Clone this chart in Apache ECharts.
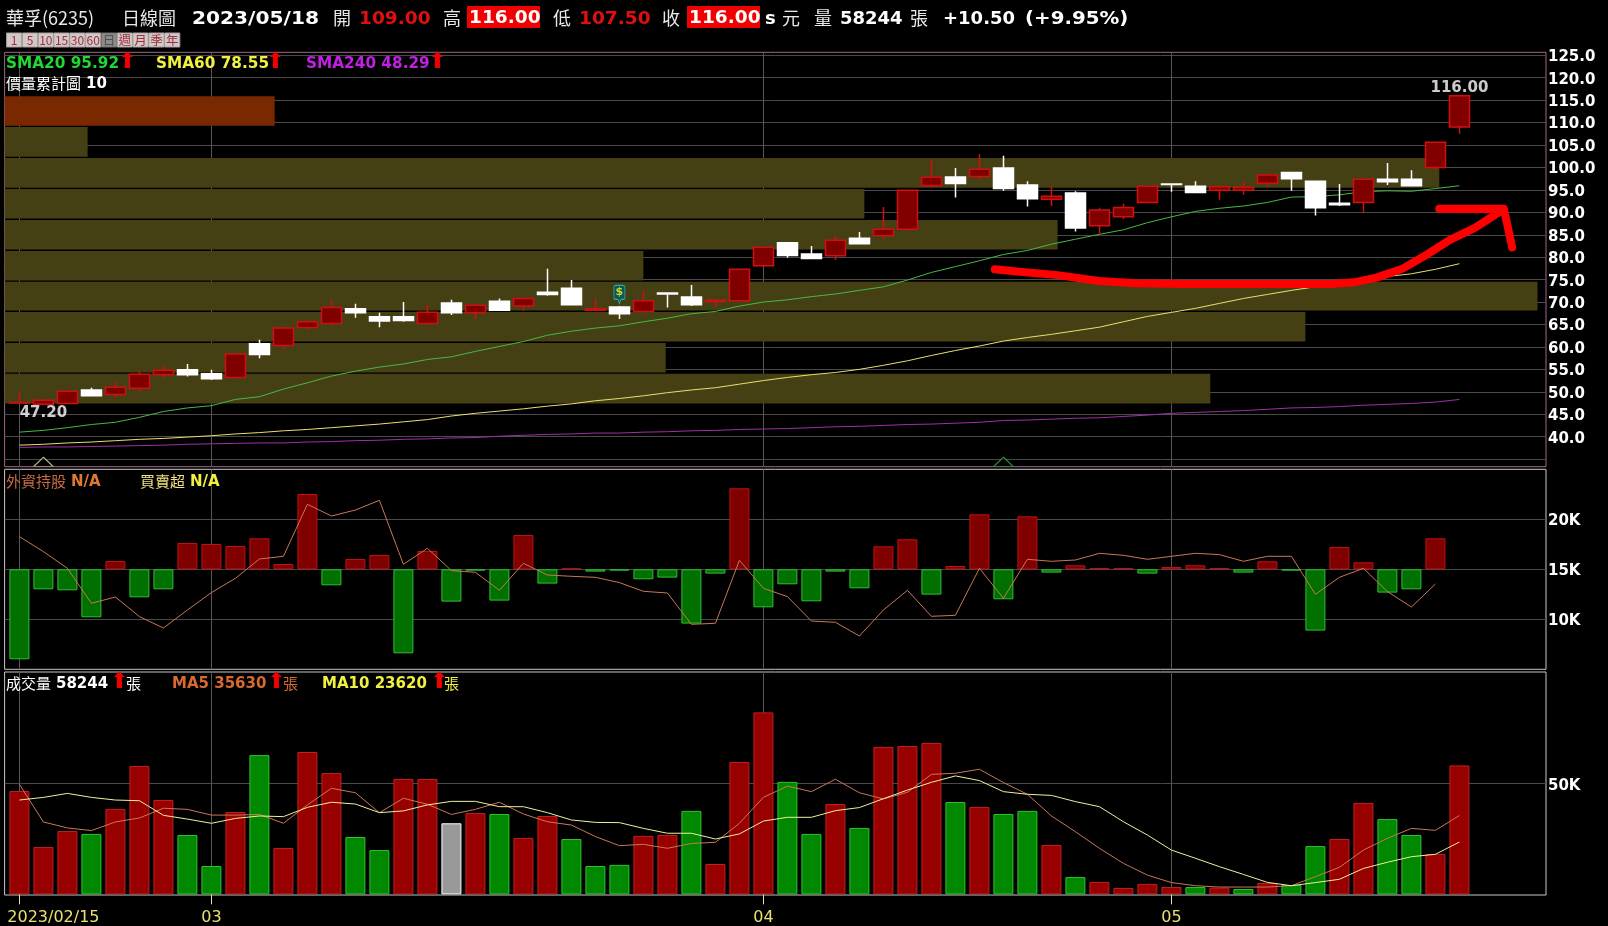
<!DOCTYPE html>
<html><head><meta charset="utf-8">
<style>html,body{margin:0;padding:0;background:#000}#c{width:1608px;height:926px}</style>
<script src="https://cdn.jsdelivr.net/npm/echarts@6/dist/echarts.min.js"></script>
</head><body><div id="c"></div>
<script>
// ---- data ----
const opens  = [47.5,47.2,47.4,50.4,49.4,50.8,53.8,54.9,54.0,53.2,60.7,60.3,64.3,65.2,68.5,66.7,66.7,65.2,69.8,67.6,70.2,69.1,72.2,73.1,68.2,68.9,67.9,72.0,71.1,70.1,70.3,78.1,83.2,80.7,80.3,84.2,84.8,86.2,96.0,97.9,98.0,99.9,96.1,92.9,94.3,87.0,89.0,92.2,96.3,95.8,94.9,94.9,96.5,98.9,96.9,92.0,92.2,97.4,97.4,100.0,109.0];
const closes = [47.6,48.1,50.1,49.1,51.0,53.9,54.8,53.8,52.9,58.4,58.3,64.2,65.6,68.8,67.6,65.8,65.9,67.7,67.6,69.3,68.2,70.8,71.7,69.4,68.5,67.4,70.3,71.8,69.4,70.4,77.3,82.2,80.4,79.7,83.8,83.0,86.2,94.9,97.8,96.4,99.6,95.3,93.0,93.6,86.5,90.5,91.1,95.8,96.2,94.4,95.7,95.6,98.3,97.5,91.0,91.7,97.4,96.8,95.9,105.6,116.0];
const lows   = [47.4,47.2,47.4,49.1,48.7,50.0,53.2,53.4,52.6,53.2,57.5,59.5,63.9,64.8,66.5,64.4,65.6,64.9,67.1,66.2,68.0,68.0,71.4,69.4,68.2,66.2,67.9,68.8,69.1,68.8,70.3,77.7,79.9,79.7,79.4,83.0,84.1,85.9,95.6,93.3,97.4,94.8,91.3,91.4,85.7,85.2,88.5,92.2,94.6,94.4,92.8,93.9,95.7,94.8,89.3,91.4,89.8,96.1,95.9,99.4,107.5];
const highs  = [50.0,48.4,50.1,50.9,52.1,54.6,55.8,56.2,54.9,58.4,61.6,64.2,66.0,70.5,69.6,67.6,70.0,69.4,70.5,69.6,70.8,70.8,77.4,74.9,70.8,69.1,72.5,72.0,73.8,70.4,77.3,82.2,83.4,82.5,84.7,85.6,91.2,94.9,101.7,99.9,103.0,102.6,96.9,95.9,94.7,91.0,91.9,95.8,96.3,96.9,95.7,96.8,98.6,98.9,97.1,96.3,97.4,101.0,99.4,105.6,116.0];
const sma20  = [41.0,41.4,42.0,42.7,43.2,44.3,45.6,46.4,46.9,48.3,48.9,50.6,52.0,53.5,54.6,55.5,56.2,57.2,57.8,59.0,60.1,61.2,62.6,63.5,64.2,64.7,65.6,66.4,67.4,67.9,69.1,70.0,70.5,71.2,71.8,72.6,73.4,74.9,76.6,77.9,79.2,80.6,81.5,82.9,84.0,85.1,86.1,87.7,89.0,90.2,90.9,91.4,92.2,93.4,93.5,93.9,94.6,94.8,94.7,95.3,95.92];
const sma60  = [38.1,38.3,38.6,38.8,39.1,39.4,39.6,39.9,40.2,40.6,40.9,41.3,41.6,42.0,42.4,42.8,43.3,43.8,44.6,45.2,45.7,46.2,46.8,47.3,48.0,48.5,49.1,49.8,50.4,50.9,51.7,52.5,53.2,53.8,54.3,55.0,55.9,56.9,58.1,59.2,60.2,61.3,62.1,62.8,63.6,64.4,65.6,66.8,67.7,68.6,69.7,70.8,71.7,72.6,73.4,74.2,74.9,75.7,76.3,77.3,78.55];
const sma240 = [37.6,37.7,37.7,37.8,37.9,38.0,38.1,38.3,38.4,38.5,38.6,38.6,38.8,38.9,39.1,39.2,39.4,39.5,39.7,39.8,40.1,40.3,40.5,40.6,40.8,40.8,41.0,41.1,41.3,41.4,41.6,41.7,41.8,42.0,42.2,42.3,42.5,42.7,42.8,43.0,43.2,43.6,43.7,43.9,44.1,44.2,44.5,44.8,45.2,45.4,45.6,45.8,46.1,46.4,46.5,46.7,47.0,47.2,47.4,47.7,48.29];
const profileHigh = [115.9,109.0,102.1,95.2,88.3,81.4,74.5,67.8,60.9,54.0];
const profileLow  = [109.3,102.4,95.5,88.6,81.7,74.8,68.1,61.2,54.3,47.4];
const profileVol  = [60.5,18.6,321.4,192.6,235.9,143.1,343.4,291.4,148.1,270.1];
const netBuy = [-9.0,-2.0,-2.1,-4.8,0.83,-2.8,-2.0,2.63,2.53,2.33,3.1,0.53,7.53,-1.6,1.03,1.43,-8.4,1.83,-3.23,-0.13,-3.13,3.43,-1.43,0.1,-0.23,-0.13,-1.0,-0.83,-5.43,-0.43,8.1,-3.8,-1.5,-3.2,-0.23,-1.9,2.3,3.0,-2.53,0.33,5.5,-3.0,5.3,-0.33,0.4,0.13,0.13,-0.43,0.23,0.4,0.13,-0.33,0.8,-0.13,-6.13,2.23,0.7,-2.33,-2.0,3.1];
const foreignHold = [18.27,16.77,15.1,11.6,12.23,10.27,9.13,10.93,12.67,14.1,16.03,16.3,21.5,20.33,20.93,21.9,15.5,17.1,14.87,14.7,12.9,15.6,14.43,14.3,14.2,13.67,12.8,12.63,9.5,9.6,15.9,13.1,12.27,9.83,9.7,8.33,10.93,12.9,10.3,10.4,15.1,12.1,16.0,15.8,15.93,16.6,16.4,16.0,16.3,16.6,16.47,15.8,16.3,16.3,12.5,14.2,15.1,12.77,11.23,13.53];
const volume = [46.7,21.4,28.6,27.3,38.6,58.0,42.6,26.8,12.8,37.2,62.9,20.9,64.3,54.8,25.9,20.0,52.1,52.1,32.1,36.7,36.3,25.5,35.4,25.0,12.8,13.3,26.4,26.8,37.7,13.7,59.8,82.2,50.8,27.3,40.8,30.0,66.6,67.0,68.4,41.7,39.5,36.3,37.7,22.3,7.8,5.6,2.9,4.7,3.3,3.3,3.0,2.4,5.1,4.2,21.8,25.0,41.3,34.0,26.8,18.2,58.244];
const volumeDir = "rrrgrrrggrgrrrggrrwrgrrgggrrgrrrggrgrrrgrggrgrrrrgrgrggrrggrr";
const ma5  = [49.7,32.7,30.0,28.8,32.7,34.5,38.9,38.4,35.8,35.8,36.1,32.1,40.4,47.9,45.9,36.9,43.4,40.7,36.1,38.4,41.6,36.3,32.8,31.3,26.1,22.0,22.6,20.8,23.0,23.5,32.1,43.8,48.9,46.4,52.0,45.9,43.1,46.1,54.2,54.7,56.5,50.5,45.2,35.4,28.3,20.8,14.0,8.7,5.3,3.9,3.3,3.3,3.3,3.9,8.0,12.2,20.0,25.3,29.8,28.9,35.63];
const ma10 = [42.6,43.8,45.6,43.8,42.6,42.3,35.7,34.0,32.1,34.3,35.4,35.1,39.3,41.6,40.8,36.9,37.7,40.4,42.0,42.0,39.6,39.6,36.9,33.6,32.5,32.4,29.8,27.6,27.6,25.0,27.3,33.1,34.8,34.8,37.8,39.2,43.2,47.1,50.6,53.5,51.4,46.4,45.2,44.7,41.9,39.6,32.8,26.8,20.0,16.3,12.5,9.0,5.4,3.9,5.3,6.8,11.7,14.5,17.0,18.1,23.62];
const arrowX = [40.64,41.55,43.26,44.98,46.49,48.63,51.86,54.65,55.61,56.58,57.65,58.62,59.59,60.66,61.85,59.16,61.85,62.2];
const arrowY = [77.3,76.8,76.0,74.7,74.2,74.0,74.0,74.0,74.4,75.5,77.5,80.5,83.8,86.6,90.7,90.8,90.8,82.2];
const monthTicks = [0,8,31,48];
const monthLabels = ['2023/02/15','03','04','05'];
const priceTicks = [35,40,45,50,55,60,65,70,75,80,85,90,95,100,105,110,115,120,125];
const priceLabels = priceTicks.slice(1);
const foreignTicks = [10,15,20];
const volumeTicks = [50];
const buttonLabels = ['1','5','10','15','30','60','日','週','月','季','年'];
const triangleIdx = [1,41], triangleY = [34.4,34.4];
const lowMark = [1,45.3,'47.20'], highMark = [60,117.7,'116.00'];
const signalMark = [25,71.7];

// ---- helpers ----
const pairs = a => a.map((v,i)=>[i,v]);
const F = '"DejaVu Sans",sans-serif', CJK = '"Noto Sans CJK TC",sans-serif';
const GRID = '#4a4a4a';
const L=4.6, W=1541.4, XMIN=-0.617, XMAX=63.608;
const xBase = {type:'value',min:XMIN,max:XMAX,axisLine:{show:false},
  axisTick:{show:false,customValues:monthTicks},
  axisLabel:{show:false,customValues:monthTicks},
  splitLine:{show:true,lineStyle:{color:'#565656',width:1}}};
const yRich = {a:{color:'#fff',fontFamily:F,fontWeight:'bold',fontSize:15,padding:[4,0,0,0]}};
const yBase = (idx,pos)=>({gridIndex:idx,type:'value',position:pos||'right',scale:false,axisLine:{show:false},axisTick:{show:false},
  splitLine:{show:true,lineStyle:{color:GRID,width:1}},
  axisLabel:{color:'#fff',fontFamily:F,fontWeight:'bold',fontSize:15,margin:2,rich:yRich}});
function txt(x,y,s,color,o){o=o||{};return {type:'text',x:x,y:y,z:50,scaleX:o.sx||1,silent:true,
  style:{text:s,fill:color,font:(o.bold===false?'normal ':'bold ')+(o.size||15)+'px '+(o.cjk?CJK:F),textVerticalAlign:'middle',textAlign:o.align||'left'}};}
const cjk = (x,y,s,color,size)=>txt(x,y,s,color,{cjk:true,bold:false,size:size||15});

const G = [];
// header
const H=19, hs=18;
G.push(cjk(6,H-1,'華孚(6235)','#e8e8e8',18), cjk(122,H-1,'日線圖','#e8e8e8',18));
G.push(txt(192,H,'2023/05/18','#fff',{size:hs,sx:1.12}));
G.push(cjk(333,H-1,'開','#e8e8e8',18), txt(359,H,'109.00','#e01010',{size:hs,sx:1.03}));
G.push(cjk(443,H-1,'高','#e8e8e8',18));
G.push({type:'rect',z:49,shape:{x:467,y:6,width:73,height:22},style:{fill:'#f00000'}}, txt(469,H-1,'116.00','#fff',{size:hs,sx:1.03}));
G.push(cjk(553,H-1,'低','#e8e8e8',18), txt(579,H,'107.50','#e01010',{size:hs,sx:1.03}));
G.push(cjk(662,H-1,'收','#e8e8e8',18));
G.push({type:'rect',z:49,shape:{x:687,y:6,width:73,height:22},style:{fill:'#f00000'}}, txt(689,H-1,'116.00','#fff',{size:hs,sx:1.03}));
G.push(txt(765,H,'s','#fff',{size:hs}), cjk(782,H-1,'元','#e8e8e8',18));
G.push(cjk(814,H-1,'量','#e8e8e8',18), txt(840,H,'58244','#fff',{size:hs}), cjk(910,H-1,'張','#e8e8e8',18));
G.push(txt(943,H,'+10.50','#fff',{size:hs}), txt(1025,H,'(+9.95%)','#fff',{size:hs,sx:1.1}));
// period buttons
buttonLabels.forEach((b,i)=>{const sel=b==='日',x=6.6+i*15.8;
  G.push({type:'rect',z:49,shape:{x:x,y:33,width:15.2,height:14},
    style:{fill:sel?'#8a8a8a':'#d2c8c8',stroke:sel?'#707070':'#a8a0a0',lineWidth:1}});
  G.push(txt(x+7.6,40,b,sel?'#505050':'#a03040',{size:i<6?12:12.5,bold:false,cjk:true,align:'center'}));
});
// pane 1 legend
const arrow=(x,y)=>txt(x-3,y-1,'⬆','#f00000',{size:22,bold:false});
G.push(txt(6,64,'SMA20 95.92','#20d830',{sx:1.02}), arrow(121,63));
G.push(txt(156,64,'SMA60 78.55','#f0f040',{sx:1.02}), arrow(269,63));
G.push(txt(306,64,'SMA240 48.29','#c020e0',{sx:1.02}), arrow(431,63));
G.push(cjk(6,83,'價量累計圖','#fff'), txt(86,84,'10','#fff',{}));
// pane 2 legend
G.push(cjk(6,481,'外資持股','#c86a40'), txt(71,482,'N/A','#e07830',{}));
G.push(cjk(140,481,'買賣超','#f0e080'), txt(190,482,'N/A','#f0f040',{}));
// pane 3 legend
G.push(cjk(6,683,'成交量','#fff'), txt(56,684,'58244','#fff',{}), arrow(113,683), cjk(126,683,'張','#fff'));
G.push(txt(172,684,'MA5 35630','#d86a30',{}), arrow(270,683), cjk(283,683,'張','#d86a30'));
G.push(txt(322,684,'MA10 23620','#f0f040',{}), arrow(433,683), cjk(444,683,'張','#f0f040'));

const candleData = opens.map((o,i)=>[i,o,closes[i],lows[i],highs[i]]);
const thin = (name,data,color,x,y,z)=>({name,type:'line',xAxisIndex:x,yAxisIndex:y,data:pairs(data),showSymbol:false,silent:true,z:z||5,
  lineStyle:{color,width:1},itemStyle:{color}});
const netData = netBuy.map((v,i)=>({value:[i,v],itemStyle:v>=0?{color:'#800000',borderColor:'#c01010',borderWidth:1}:{color:'#007000',borderColor:'#30c030',borderWidth:1}}));
const volStyle = {r:{color:'#980000',borderColor:'#c02020'},g:{color:'#008800',borderColor:'#30c030'},w:{color:'#999',borderColor:'#fff'}};
const volData = volume.map((v,i)=>({value:[i,v],itemStyle:Object.assign({borderWidth:1},volStyle[volumeDir[i]])}));

const option = {
  animation:false, backgroundColor:'#000',
  grid:[
    {left:L,top:52.3,width:W,height:414.4,show:true,borderColor:'#a06884',borderWidth:1,backgroundColor:'transparent'},
    {left:L,top:469.3,width:W,height:200,show:true,borderColor:'#c8c8c8',borderWidth:1,backgroundColor:'transparent'},
    {left:L,top:672,width:W,height:223,show:true,borderColor:'#c8c8c8',borderWidth:1,backgroundColor:'transparent'}
  ],
  xAxis:[
    Object.assign({gridIndex:0},xBase),
    {gridIndex:0,type:'value',min:0,max:345.3,show:false},
    Object.assign({gridIndex:1},xBase),
    Object.assign({gridIndex:2},xBase,{
      axisTick:{show:true,length:10,customValues:monthTicks,lineStyle:{color:'#e8e0a0'}},
      axisLabel:{show:true,customValues:monthTicks,color:'#e8e070',fontFamily:F,fontSize:16,margin:15,
        formatter:v=>{const s=monthLabels[monthTicks.indexOf(v)];return v===0?'{a|'+s+'}':s;},
        rich:{a:{color:'#e8e070',fontFamily:F,fontSize:16,padding:[0,0,0,68]}}}
    })
  ],
  yAxis:[
    (()=>{const a=yBase(0);a.min=33.3;a.max=125.67;a.axisTick.customValues=priceTicks;a.axisLabel.customValues=priceLabels;
      a.axisLabel.formatter=v=>'{a|'+v.toFixed(1)+'}';return a;})(),
    (()=>{const a=yBase(1);a.min=5;a.max=25;a.axisTick.customValues=foreignTicks;a.axisLabel.customValues=foreignTicks;
      a.axisLabel.formatter=v=>'{a|'+v+'K}';return a;})(),
    {gridIndex:1,type:'value',min:-10,max:10,show:false},
    (()=>{const a=yBase(2);a.min=-0.3;a.max=100.45;a.axisTick.customValues=volumeTicks;a.axisLabel.customValues=volumeTicks;
      a.axisLabel.formatter=v=>'{a|'+v+'K}';return a;})()
  ],
  series:[
    {type:'custom',xAxisIndex:1,yAxisIndex:0,z:2,silent:true,clip:true,
      data:profileVol.map((v,i)=>[v,profileHigh[i],profileLow[i]]),
      encode:{x:0,y:1},
      renderItem:(p,api)=>{
        const a=api.coord([0,api.value(1)]),b=api.coord([api.value(0),api.value(2)]);
        return {type:'rect',shape:{x:a[0],y:a[1],width:b[0]-a[0],height:b[1]-a[1]},
          style:{fill:api.value(1)>=profileHigh[0]?'#7a2800':'#453f14'}};
      }},
    thin('SMA240',sma240,'#a030a8',0,0,4),
    thin('SMA60',sma60,'#e8e070',0,0,4),
    thin('SMA20',sma20,'#48b848',0,0,4),
    {type:'candlestick',xAxisIndex:0,yAxisIndex:0,z:6,barWidth:20,silent:true,data:candleData,
      itemStyle:{color:'#800000',color0:'#ffffff',borderColor:'#d01010',borderColor0:'#ffffff',borderWidth:1.5}},
    {type:'scatter',xAxisIndex:0,yAxisIndex:0,z:7,silent:true,symbol:'triangle',symbolSize:[19,9],
      data:[{value:[triangleIdx[0],triangleY[0]],itemStyle:{color:'#000',borderColor:'#e8e0a0',borderWidth:1}},
            {value:[triangleIdx[1],triangleY[1]],itemStyle:{color:'#000',borderColor:'#30b040',borderWidth:1}}]},
    {type:'scatter',xAxisIndex:0,yAxisIndex:0,z:8,silent:true,
      symbol:'path://M2 0H9A2 2 0 0 1 11 2V12A2 2 0 0 1 9 14H7L5.5 18L4 14H2A2 2 0 0 1 0 12V2A2 2 0 0 1 2 0Z',
      symbolSize:[11,18],data:[signalMark],
      itemStyle:{color:'#005c5c',borderColor:'#20c8c8',borderWidth:1},
      label:{show:true,position:'inside',formatter:'$',color:'#f0f040',fontFamily:F,fontWeight:'bold',fontSize:11,offset:[0,-2],textBorderWidth:0}},
    {type:'scatter',xAxisIndex:0,yAxisIndex:0,z:8,silent:true,symbolSize:0,data:[lowMark,highMark],
      label:{show:true,position:'inside',formatter:p=>p.value[2],color:'#fff',fontFamily:F,fontWeight:'bold',fontSize:15,textBorderWidth:0}},
    {type:'line',xAxisIndex:0,yAxisIndex:0,z:9,silent:true,showSymbol:false,data:arrowX.map((x,i)=>[x,arrowY[i]]),
      lineStyle:{color:'#ff0000',width:8,cap:'round',join:'round'},itemStyle:{color:'#ff0000'}},
    {type:'bar',xAxisIndex:2,yAxisIndex:2,z:3,barWidth:20,silent:true,data:netData},
    thin('外資持股',foreignHold,'#c87858',2,1,5),
    {type:'bar',xAxisIndex:3,yAxisIndex:3,z:3,barWidth:20,silent:true,data:volData},
    thin('MA5',ma5,'#c87858',3,3,5),
    thin('MA10',ma10,'#f0f0a0',3,3,5)
  ],
  graphic:{elements:G}
};
const chart = echarts.init(document.getElementById('c'),null,{renderer:'canvas'});
chart.setOption(option);
</script></body></html>
